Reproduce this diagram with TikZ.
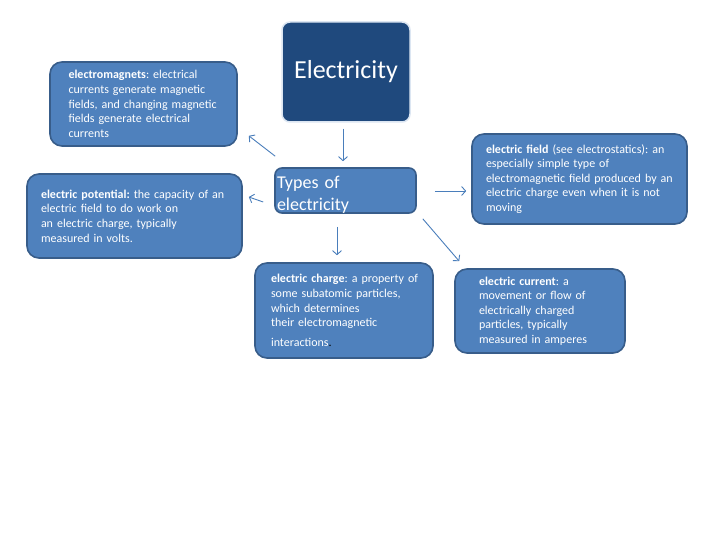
\documentclass[tikz,border=0pt]{standalone}
\usepackage{fontspec}
\setmainfont{Carlito}
\frenchspacing
\usetikzlibrary{arrows.meta}
\definecolor{boxfill}{RGB}{79,129,189}
\definecolor{boxline}{RGB}{56,93,138}
\definecolor{darkfill}{RGB}{31,73,125}
\definecolor{rimcol}{RGB}{220,230,242}
\definecolor{arrcol}{RGB}{74,126,187}
\begin{document}
\begin{tikzpicture}[x=1pt,y=-1pt,
  infobox/.style={draw=boxline,fill=boxfill,line width=1.6pt,rounded corners=12pt,
    text=white,align=left,font=\frenchspacing\fontsize{12}{14.6}\selectfont,inner xsep=0pt,inner ysep=0pt},
  arr/.style={draw=arrcol,line width=0.9pt,-{Straight Barb[length=4pt,width=9pt]}}]
\useasboundingbox[fill=white] (0,0) rectangle (720,540);
% title
\node[draw=rimcol,fill=darkfill,line width=1.5pt,rounded corners=8pt,
  minimum width=128pt,minimum height=100pt,text=white,
  font=\fontsize{26}{30}\selectfont] (elec) at (346,72) {\raisebox{-3pt}{Electricity}};
\node[draw=boxline,fill=boxfill,line width=1.6pt,rounded corners=7pt,
  minimum width=141pt,minimum height=45pt,text=white,align=left,
  text width=137pt,inner xsep=2pt,font=\fontsize{18}{22}\selectfont] (types) at (345.5,190.5)
  {\raisebox{-9pt}[0pt][0pt]{Types of}\\\raisebox{-9pt}[0pt][0pt]{electricity}};
% info boxes
\node[infobox,minimum width=187pt,minimum height=84pt,text width=150pt] (em) at (143.5,104)
  {\textbf{electromagnets}: electrical\\currents generate magnetic\\fields, and changing magnetic\\fields generate electrical\\currents};
\node[infobox,minimum width=215pt,minimum height=84pt,text width=187pt] (pot) at (134.5,216)
  {\textbf{electric potential:} the capacity of an\\electric field to do work on\\an electric charge, typically\\measured in volts.};
\node[infobox,minimum width=215pt,minimum height=90pt,text width=187pt] (field) at (579.5,179)
  {\mbox{\textbf{electric field} (see electrostatics): an}\\especially simple type of\\\mbox{electromagnetic field produced by an}\\electric charge even when it is not\\moving};
\node[infobox,minimum width=178pt,minimum height=95pt,text width=146pt] (charge) at (344,310.5)
  {\mbox{\textbf{electric charge}: a property of}\\some subatomic particles,\\which determines\\their electromagnetic\\[5pt]interactions{\color{black}.}};
\node[infobox,minimum width=170pt,minimum height=84pt,text width=122pt] (curr) at (540,311)
  {\textbf{electric current}: a\\movement or flow of\\electrically charged\\particles, typically\\measured in amperes};
% arrows
\draw[arr] ([shift={(-3,6)}]elec.south) -- ([shift={(-2.5,-6)}]types.north);
\draw[arr] ([shift={(1,-11)}]types.north west) -- ([shift={(11,-11)}]em.south east);
\draw[arr] ([shift={(-11,11.5)}]types.west) -- ([shift={(6,-19)}]pot.east);
\draw[arr] ([shift={(18,0.5)}]types.east) -- ([shift={(-5,12)}]field.west);
\draw[arr] ([shift={(-8.5,13)}]types.south) -- ([shift={(-7,-7)}]charge.north);
\draw[arr] ([shift={(6,5)}]types.south east) -- ([shift={(5,-7)}]curr.north west);
\end{tikzpicture}
\end{document}
